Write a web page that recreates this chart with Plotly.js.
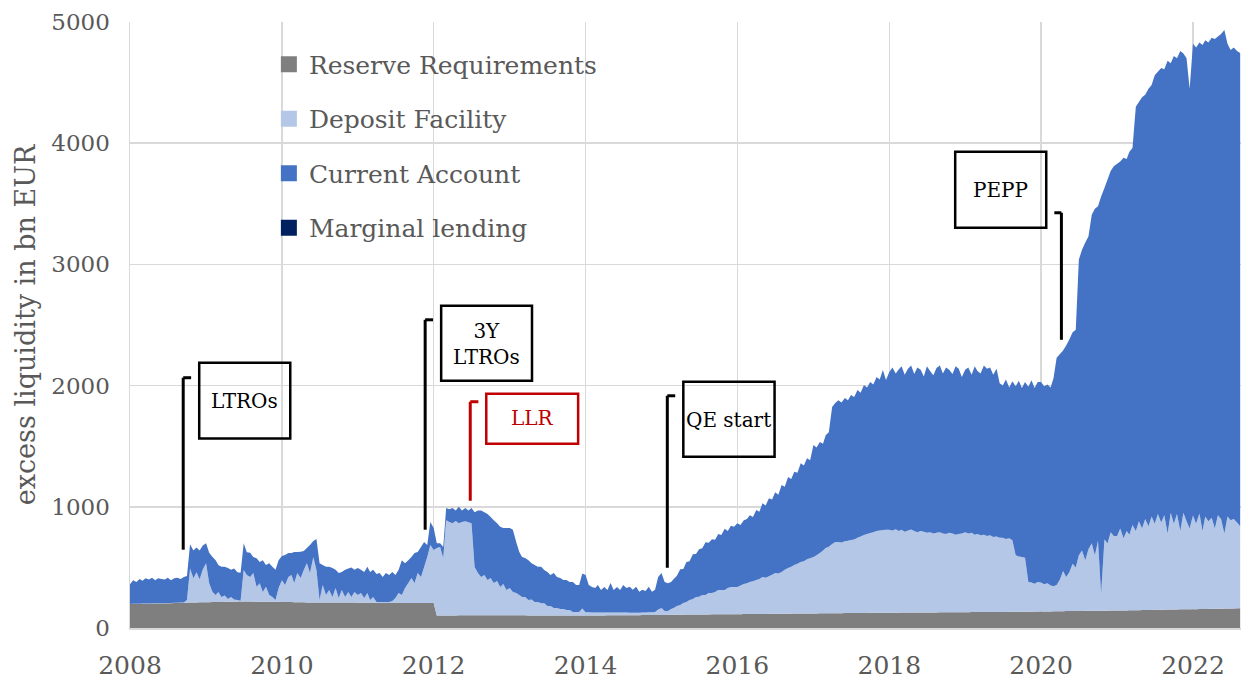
<!DOCTYPE html>
<html>
<head>
<meta charset="utf-8">
<script src="https://cdn.plot.ly/plotly-3.0.1.min.js"></script>
<style>
  html, body { margin: 0; padding: 0; background: #ffffff; }
  #chart { width: 1241px; height: 680px; }
</style>
</head>
<body>
<div id="chart"></div>
<script>
// semi-monthly observations (1st and 16th), one row per year 2008..2022, bn EUR
var years = [2008, 2009, 2010, 2011, 2012, 2013, 2014, 2015, 2016, 2017, 2018, 2019, 2020, 2021, 2022];

var reserveRequirements = [
  [198,198,199,199,200,200,201,201,202,202,203,203,205,205,207,207,208,208,210,210,211,211,212,212],
  [213,213,214,214,215,215,216,216,217,217,218,218,218,218,218,218,217,217,217,217,216,216,216,216],
  [215,215,214,214,213,213,212,212,211,211,211,211,211,211,211,211,211,211,210,210,210,210,210,210],
  [209,209,208,208,208,208,207,207,207,207,207,207,207,207,207,207,207,207,207,207,206,206,206,206],
  [206,103,104,104,104,104,104,104,105,105,105,105,105,105,106,106,106,106,106,106,106,106,106,106],
  [105,105,105,105,105,105,104,104,104,104,104,104,104,104,104,104,104,104,104,104,104,104,104,104],
  [104,104,104,104,104,104,104,105,105,105,105,105,106,106,106,106,106,106,107,107,107,107,107,107],
  [108,108,109,109,110,110,110,110,111,111,111,111,112,112,112,112,113,113,113,113,113,113,114,114],
  [114,114,115,115,115,115,116,116,116,116,117,117,117,117,118,118,118,118,119,119,119,119,120,120],
  [120,120,121,121,121,121,122,122,122,122,123,123,123,123,124,124,124,124,125,125,125,125,126,126],
  [126,126,126,126,127,127,127,127,127,127,128,128,128,128,128,128,129,129,129,129,129,129,130,130],
  [130,130,131,131,131,131,132,132,132,132,133,133,133,133,134,134,134,134,135,135,135,135,136,136],
  [136,136,137,137,138,138,139,139,140,140,141,141,141,141,142,142,142,142,143,143,143,143,144,144],
  [144,144,145,145,146,146,147,147,148,148,149,149,150,150,151,151,152,152,153,153,154,154,155,155],
  [155,155,156,156,157,157,158,158,159,159,160,160,161,161,162,162]
];

var depositFacility = [
  [0,2,2,2,2,2,2,2,2,2,2,2,2,2,2,2,2,2,20,280,200,250,190,270],
  [322,157,83,58,82,40,52,24,38,18,12,7,260,219,202,235,123,153,80,123,56,39,14,114],
  [181,140,206,223,158,240,200,266,324,242,374,267,19,144,61,102,44,119,37,103,45,87,45,87],
  [63,79,39,80,22,47,8,8,8,8,8,16,40,81,65,123,164,205,164,246,214,297,379,479],
  [437,557,564,474,786,771,761,778,760,770,775,767,760,398,347,314,331,290,306,265,282,232,257,207],
  [225,192,183,167,150,150,126,131,110,110,101,101,77,77,61,61,53,53,44,44,28,28,28,56],
  [25,25,24,24,24,23,23,23,23,22,22,22,22,22,20,20,20,20,20,20,22,22,24,45],
  [57,32,31,48,55,71,80,96,103,119,128,144,146,160,160,176,175,184,200,200,200,217,224,224],
  [224,236,248,255,265,270,280,289,304,299,311,323,336,333,344,362,377,387,401,411,426,431,448,455],
  [465,480,498,519,539,549,571,588,588,583,592,597,603,607,621,631,643,651,659,665,675,680,683,684],
  [684,679,689,674,683,668,678,685,673,663,672,667,657,662,652,657,661,651,646,656,651,641,645,650],
  [660,650,654,639,644,634,638,628,633,618,622,612,612,602,606,591,466,456,450,445,245,240,229,244],
  [239,224,233,213,207,217,261,331,280,320,389,359,459,499,418,508,558,458,577,137,587,557,646,616],
  [616,676,595,655,624,704,653,733,672,752,691,771,710,790,719,779,628,798,707,787,646,796,725,665],
  [775,705,789,644,763,723,752,662,771,741,620,760,729,739,708,678]
];

var currentAccount = [
  [162,195,179,204,188,208,197,212,191,206,200,195,208,188,201,206,195,210,200,200,229,204,238,198],
  [165,250,288,288,223,250,237,255,225,255,230,230,222,188,200,132,235,175,263,180,263,250,250,230],
  [198,247,199,182,256,174,218,157,125,232,133,257,305,165,233,192,240,150,206,149,225,193,245,183],
  [223,192,215,217,232,225,230,238,205,238,222,239,190,190,288,205,189,173,248,174,248,207,100,190],
  [182,40,32,90,100,105,125,88,135,95,110,98,125,452,517,550,518,544,503,519,477,497,462,512],
  [495,513,422,355,330,323,330,300,306,291,300,273,281,256,288,255,255,239,248,232,248,223,223,290],
  [308,226,210,202,227,186,211,185,243,186,211,186,227,202,214,189,214,174,188,178,211,171,184,268],
  [288,240,230,223,240,250,295,280,330,320,370,355,392,385,435,415,445,432,462,455,505,470,505,498],
  [527,500,527,530,550,530,577,555,610,595,642,620,667,650,718,685,750,725,770,750,815,790,832,810],
  [925,890,916,880,930,945,1130,1146,1170,1155,1182,1160,1196,1175,1218,1185,1238,1210,1246,1220,1271,1245,1319,1236],
  [1302,1345,1285,1335,1350,1295,1335,1353,1295,1360,1330,1280,1375,1330,1305,1360,1375,1320,1375,1345,1315,1390,1365,1290],
  [1340,1370,1305,1390,1345,1335,1395,1380,1385,1340,1385,1275,1255,1315,1245,1310,1395,1450,1395,1450,1610,1670,1615,1650],
  [1655,1635,1640,1635,1715,1875,1860,1820,1910,1920,1910,1960,2440,2480,2620,2580,2710,2860,2760,3280,2900,3000,2980,3050],
  [3070,3030,3140,3070,3160,3110,3500,3460,3560,3500,3610,3560,3700,3650,3750,3680,3900,3710,3860,3760,3960,3790,3820,3630],
  [3890,3930,3885,4010,3930,3950,3960,4040,3950,4000,4155,3900,3880,3890,3890,3905]
];

var seriesNames = ["Reserve Requirements", "Deposit Facility", "Current Account", "Marginal lending"];
var seriesColors = ["#7f7f7f", "#b4c7e7", "#4472c4", "#002060"];

// dates: 1st and 16th of each month
function pad(n) { return n < 10 ? "0" + n : "" + n; }
var dates = [];
years.forEach(function (y, i) {
  for (var s = 0; s < reserveRequirements[i].length; s++) {
    dates.push(y + "-" + pad(Math.floor(s / 2) + 1) + "-" + (s % 2 ? "16" : "01"));
  }
});
function flat(rows) { return [].concat.apply([], rows); }

var font = "DejaVu Serif, Liberation Serif, serif";
var grey = "#595959";

var areaValues = [reserveRequirements, depositFacility, currentAccount];
var traces = areaValues.map(function (rows, i) {
  return {
    x: dates, y: flat(rows), type: "scatter", mode: "none",
    stackgroup: "liq", fill: "tonexty", fillcolor: seriesColors[i],
    name: seriesNames[i], showlegend: false, hoverinfo: "skip"
  };
});
// legend entries (square markers)
seriesNames.forEach(function (n, i) {
  traces.push({
    x: [null], y: [null], type: "scatter", mode: "markers", name: n,
    legendgroup: "g" + i,
    marker: { symbol: "square", size: 16, color: seriesColors[i] }
  });
});

// event markers: box, text and bracket
var events = [
  { text: "LTROs", color: "#000000", box: ["2008-11-29", "2010-02-10", 1563, 2189], label: ["2009-07-05", 1875],
    tick: ["2008-10-21", "2008-09-13", 2065], bottom: 646 },
  { text: "3Y<br>LTROs", color: "#000000", box: ["2012-02-06", "2013-04-18", 2041, 2659], label: ["2012-09-12", 2345],
    tick: ["2011-12-29", "2011-11-21", 2543], bottom: 811 },
  { text: "LLR", color: "#c00000", box: ["2012-09-10", "2013-11-26", 1520, 1932], label: ["2013-04-19", 1733],
    tick: ["2012-08-03", "2012-06-25", 1867], bottom: 1050 },
  { text: "QE start", color: "#000000", box: ["2015-04-16", "2016-06-28", 1413, 2032], label: ["2015-11-20", 1720],
    tick: ["2015-03-08", "2015-01-29", 1916], bottom: 497 },
  { text: "PEPP", color: "#000000", box: ["2018-11-14", "2020-01-26", 3303, 3930], label: ["2019-06-20", 3617],
    tick: ["2020-03-05", "2020-04-08", 3426], bottom: 2378 }
];

var shapes = [];
var annotations = [];
events.forEach(function (e) {
  shapes.push({ type: "rect", xref: "x", yref: "y", x0: e.box[0], x1: e.box[1], y0: e.box[2], y1: e.box[3],
    line: { color: e.color, width: 2.5 }, fillcolor: "rgba(255,255,255,0)" });
  shapes.push({ type: "line", xref: "x", yref: "y", x0: e.tick[0], x1: e.tick[1], y0: e.tick[2], y1: e.tick[2],
    line: { color: e.color, width: 3 } });
  shapes.push({ type: "line", xref: "x", yref: "y", x0: e.tick[1], x1: e.tick[1], y0: e.tick[2], y1: e.bottom,
    line: { color: e.color, width: 3 } });
  annotations.push({ x: e.label[0], y: e.label[1], xref: "x", yref: "y", text: e.text, showarrow: false,
    font: { family: font, size: 20, color: e.color }, align: "center" });
});

var layout = {
  width: 1241, height: 680,
  margin: { l: 130, r: 0, t: 22, b: 52 },
  paper_bgcolor: "#ffffff", plot_bgcolor: "#ffffff",
  font: { family: font, color: grey },
  showlegend: true,
  legend: {
    x: 0.125, y: 0.968, xanchor: "left", yanchor: "top",
    bgcolor: "rgba(0,0,0,0)", font: { family: font, size: 25, color: grey },
    traceorder: "grouped", tracegroupgap: 19, itemwidth: 30
  },
  xaxis: {
    type: "date", range: ["2008-01-01", "2022-08-20"],
    tick0: "2008-01-01", dtick: "M24", tickformat: "%Y",
    showgrid: true, gridcolor: "#d9d9d9", gridwidth: 1.5,
    showline: true, linecolor: "#d9d9d9", linewidth: 1.5,
    ticks: "", ticklabelstandoff: 14,
    tickfont: { family: font, size: 25, color: grey }, zeroline: false
  },
  yaxis: {
    range: [0, 5000], dtick: 1000, tick0: 0,
    showgrid: true, gridcolor: "#d9d9d9", gridwidth: 1.5,
    showline: true, linecolor: "#d9d9d9", linewidth: 1.5,
    ticks: "", ticklabelstandoff: 14, zeroline: false,
    tickfont: { family: font, size: 23, color: grey },
    title: { text: "excess liquidity in bn EUR", font: { family: font, size: 27, color: grey }, standoff: 8 }
  },
  shapes: shapes,
  annotations: annotations
};

Plotly.newPlot("chart", traces, layout, { displayModeBar: false, staticPlot: true });
</script>
</body>
</html>
